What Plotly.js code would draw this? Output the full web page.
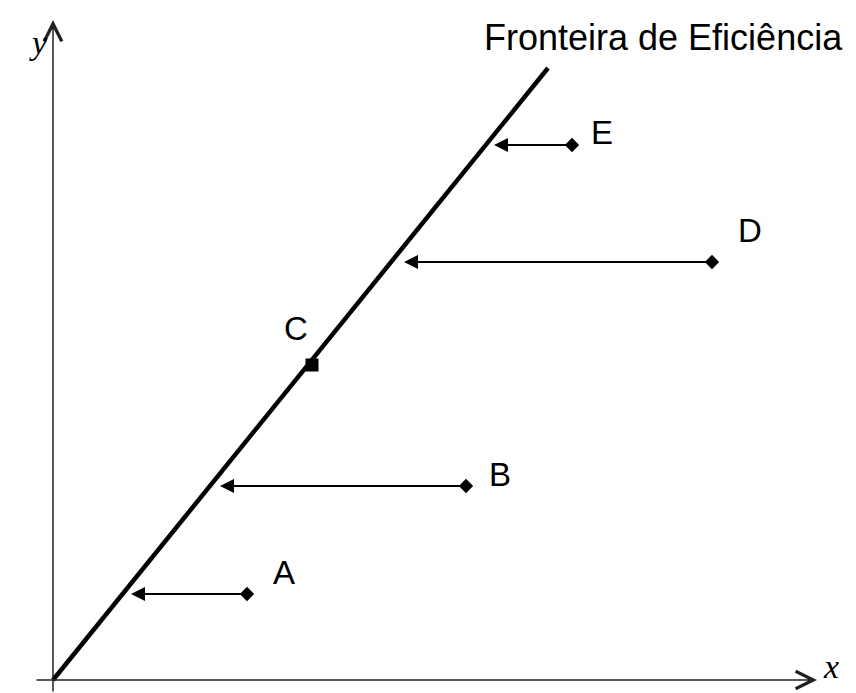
<!DOCTYPE html>
<html><head><meta charset="utf-8">
<script src="https://cdn.plot.ly/plotly-3.0.1.min.js"></script>
<style>html,body{margin:0;padding:0;background:#fff;}#chart{width:856px;height:693px;}</style>
</head><body><div id="chart"></div>
<script>
// Frontier (efficiency line) from origin
var frontierX = [0, 495];
var frontierY = [0, 612];
// DMUs
var dmuNames = ["A", "B", "C", "D", "E"];
var dmuX = [194, 413, 259, 659, 519];
var dmuY = [86, 194, 315, 418, 535];
// Projection targets on the frontier (arrow tips); C is on the frontier
var projX = [78, 167, null, 351, 441];
var frontierLabel = "Fronteira de Eficiência";
var xLabel = "x", yLabel = "y";

var traces = [
  {x: frontierX, y: frontierY, mode: "lines", line: {color: "#000", width: 4.5}, hoverinfo: "skip"}
];
var diaX = [], diaY = [], sqX = [], sqY = [];
dmuNames.forEach(function(n, i){
  if (projX[i] === null) { sqX.push(dmuX[i]); sqY.push(dmuY[i]); }
  else { diaX.push(dmuX[i]); diaY.push(dmuY[i]); }
});
traces.push({x: diaX, y: diaY, mode: "markers", marker: {symbol: "diamond", size: 11, color: "#000"}, hoverinfo: "skip"});
traces.push({x: sqX, y: sqY, mode: "markers", marker: {symbol: "square", size: 13, color: "#000"}, hoverinfo: "skip"});

var labelOffsets = {A: [37, 22], B: [34, 12], C: [-16, 37], D: [38, 32], E: [30, 13]};
var ann = [];
dmuNames.forEach(function(n, i){
  if (projX[i] !== null) {
    ann.push({x: projX[i], y: dmuY[i], ax: dmuX[i], ay: dmuY[i], axref: "x", ayref: "y", xref: "x", yref: "y",
      showarrow: true, arrowhead: 2, arrowsize: 1.4, arrowwidth: 2, arrowcolor: "#000", standoff: 0, startstandoff: 0, text: ""});
  }
  ann.push({x: dmuX[i], y: dmuY[i], xref: "x", yref: "y", text: n, showarrow: false,
    xshift: labelOffsets[n][0], yshift: labelOffsets[n][1],
    font: {family: "Liberation Sans, Arial, sans-serif", size: 33, color: "#000"}});
});
// axes with open arrowheads
ann.push({x: 764, y: 0, ax: -18, ay: 0, axref: "x", ayref: "y", xref: "x", yref: "y", showarrow: true,
  arrowhead: 5, arrowsize: 2.3, arrowwidth: 1.5, arrowcolor: "#222", standoff: 0, text: ""});
ann.push({x: 0, y: 660, ax: 0, ay: -13, axref: "x", ayref: "y", xref: "x", yref: "y", showarrow: true,
  arrowhead: 5, arrowsize: 2.3, arrowwidth: 1.5, arrowcolor: "#222", standoff: 0, text: ""});
ann.push({x: 778, y: 14, xref: "x", yref: "y", text: "<i>" + xLabel + "</i>", showarrow: false,
  font: {family: "Liberation Serif, Times New Roman, serif", size: 34, color: "#000"}});
ann.push({x: -15, y: 638, xref: "x", yref: "y", text: "<i>" + yLabel + "</i>", showarrow: false,
  font: {family: "Liberation Serif, Times New Roman, serif", size: 34, color: "#000"}});
ann.push({x: 610, y: 643, xref: "x", yref: "y", text: frontierLabel, showarrow: false,
  font: {family: "Liberation Sans, Arial, sans-serif", size: 36, color: "#000"}});

var ax = {showgrid: false, zeroline: false, showticklabels: false, showline: false, ticks: "", fixedrange: true};
var layout = {
  width: 856, height: 693, margin: {l: 0, r: 0, t: 0, b: 0},
  paper_bgcolor: "#fff", plot_bgcolor: "#fff", showlegend: false,
  xaxis: Object.assign({range: [-53, 803]}, ax),
  yaxis: Object.assign({range: [-13, 680]}, ax),
  annotations: ann
};
Plotly.newPlot("chart", traces, layout, {staticPlot: true});
</script></body></html>
